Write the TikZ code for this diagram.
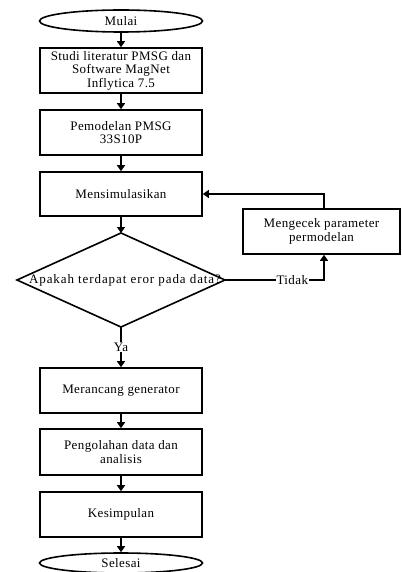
\documentclass[tikz,border=0pt]{standalone}
\usepackage{fontspec}
\setmainfont{Liberation Serif}[LetterSpace=3]
\usetikzlibrary{arrows.meta,shapes.geometric}
\begin{document}
\begin{tikzpicture}[x=1pt,y=-1pt,
  txt/.style={font=\fontsize{13}{13.5}\selectfont},
  box/.style={draw, line width=1.6pt, minimum width=162pt, minimum height=45pt, align=center, inner sep=1pt, txt},
  term/.style={draw, ellipse, line width=1.6pt, minimum width=163pt, minimum height=22pt, inner sep=0pt, txt},
  arr/.style={line width=1.4pt, -{Triangle[length=6pt,width=8pt]}},
  ln/.style={line width=1.4pt}]
\useasboundingbox (0,0) rectangle (401,572);
\fill[white] (0,0) rectangle (401,572);
\node[term] (start) at (121,21) {Mulai};
\node[box] (b1) at (121,70.5) {Studi literatur PMSG dan\\Software MagNet\\Inflytica 7.5};
\node[box] (b2) at (121,132.5) {Pemodelan PMSG\\33S10P};
\node[box, minimum height=44pt] (b3) at (121,194) {Mensimulasikan};
\coordinate (dt) at (121,233);
\coordinate (dr) at (225,280);
\coordinate (db) at (121,327);
\coordinate (dl) at (17,280);
\draw[line width=1.6pt] (dt) -- (dr) -- (db) -- (dl) -- cycle;
\node[txt, inner sep=0pt] (dq) at (125,280) {\addfontfeature{LetterSpace=7}Apakah terdapat eror pada data?};
\node[box, minimum width=157pt] (chk) at (321.5,231.5) {Mengecek parameter\\permodelan};
\node[box] (b4) at (121,390.5) {Merancang generator};
\node[box, minimum height=46pt] (b5) at (121,452) {Pengolahan data dan\\analisis};
\node[box] (b6) at (121,514.5) {Kesimpulan};
\node[term, minimum height=20pt] (end) at (121,563) {Selesai};
\coordinate (tc) at (324,280);
\draw[arr] (start.south) -- (b1.north);
\draw[arr] (b1.south) -- (b2.north);
\draw[arr] (b2.south) -- (b3.north);
\draw[arr] (b3.south) -- (dt);
\draw[arr] (db) -- node[fill=white, txt, inner sep=1pt] (ya) {Ya} (b4.north);
\draw[arr] (dr) -- node[pos=0.68, fill=white, txt, inner sep=1pt] (tidak) {Tidak} (tc) -- (tc |- chk.south);
\draw[arr] (tc |- chk.north) |- (b3.east);
\draw[arr] (b4.south) -- (b5.north);
\draw[arr] (b5.south) -- (b6.north);
\draw[arr] (b6.south) -- (end.north);
\end{tikzpicture}
\end{document}
